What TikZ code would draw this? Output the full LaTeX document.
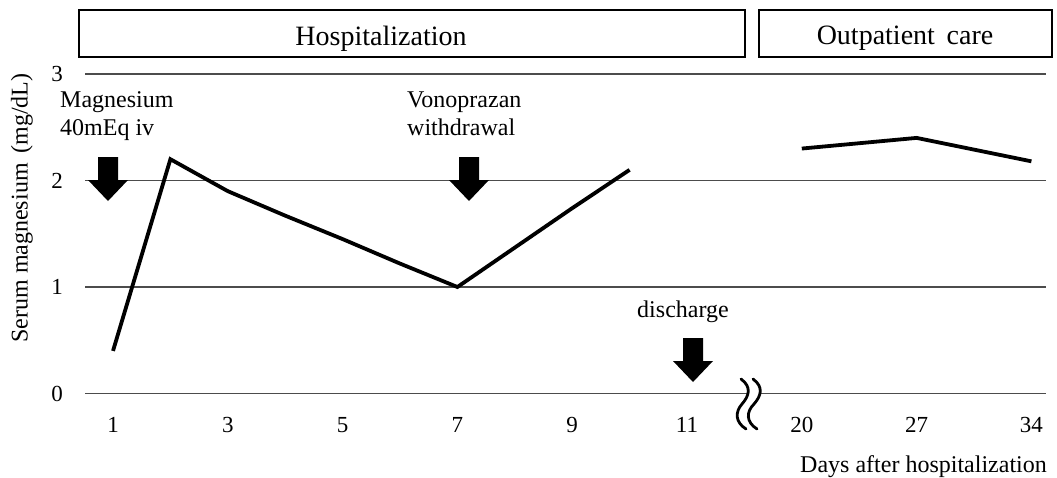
\documentclass[tikz,border=0pt]{standalone}
\usepackage{fontspec}
\setmainfont{Liberation Serif}
\begin{document}
\begin{tikzpicture}[x=1pt,y=-1pt,
  lbl/.style={font=\fontsize{24}{28}\selectfont, inner sep=0pt, anchor=base west},
  ctr/.style={font=\fontsize{24}{28}\selectfont, inner sep=0pt, anchor=base},
  tick/.style={font=\fontsize{23}{27}\selectfont, inner sep=0pt, anchor=base},
  head/.style={font=\fontsize{28}{33}\selectfont, inner sep=0pt, anchor=base},
  gridline/.style={line width=1.3pt, black!70},
  periodbox/.style={draw=black, line width=1.4pt},
  dataline/.style={line width=3.8pt, line join=miter},
  blockarrow/.style={fill=black},
  breakcurve/.style={line width=2.8pt, line cap=round}]
\useasboundingbox (0,0) rectangle (1057,477);

% header boxes
\draw[periodbox] (79,10) rectangle (745,57);
\node[head] (hosp) at (381,45) {Hospitalization};
\draw[periodbox] (759,10) rectangle (1052,57);
\node[head] (outp) at (905,44) {Outpatient\ \,care};

% gridlines
\foreach \v/\py in {3/74,2/180.5,1/287,0/393.5}{
  \draw[gridline] (85,\py) -- (1046,\py);
  \node[tick] (y\v) at (57,\py+7.5) {\v};
}

% break symbol on axis
\fill[white] (741,379) .. controls (752,387) and (749,396) .. (742,404)
   .. controls (735,412) and (735,422) .. (746,429)
   -- (757,429) .. controls (746,422) and (746,412) .. (754,404)
   .. controls (761,396) and (764,387) .. (753,379) -- cycle;
\draw[breakcurve] (741,379) .. controls (752,387) and (749,396) .. (742,404)
   .. controls (735,412) and (735,422) .. (746,429);
\draw[breakcurve] (753,379) .. controls (764,387) and (761,396) .. (754,404)
   .. controls (746,412) and (746,422) .. (757,429);

% x tick labels
\foreach \d/\i in {1/0,3/2,5/4,7/6,9/8,11/10,20/12,27/14,34/16}{
  \node[tick] (x\d) at ({113+57.4*\i},432) {\d};
}

% data points
\foreach \n/\i/\v in {a/0/0.4,b/1/2.2,c/2/1.9,d/3/1.67,e/4/1.45,f/5/1.22,g/6/1.0,h/7/1.37,k/8/1.74,m/9/2.1,p/12/2.3,q/14/2.4,r/16/2.18}{
  \coordinate (\n) at ({113+57.4*\i},{393.5-106.5*\v});
}
\draw[dataline] (a) -- (b) -- (c) -- (d) -- (e) -- (f) -- (g) -- (h) -- (k) -- (m);
\draw[dataline] (p) -- (q) -- (r);

% block arrows
\foreach \ax/\ay in {108/157,469/157,693/338}{
  \fill[blockarrow,shift={(\ax,\ay)}] (-10,0) -- (10,0) -- (10,23) -- (20,23)
     -- (0,44) -- (-20,23) -- (-10,23) -- cycle;
}

% annotations
\node[lbl] (mg1) at (60,107) {Magnesium};
\node[lbl] (mg2) at (60,135) {40mEq iv};
\node[lbl] (vo1) at (407,107) {Vonoprazan};
\node[lbl] (vo2) at (407,135) {withdrawal};
\node[ctr] (dis) at (683,317) {discharge};

% axis titles
\node[font=\fontsize{24}{28}\selectfont, inner sep=0pt, rotate=90] (ytitle) at (22,208) {Serum magnesium\ \,(mg/dL)};
\node[font=\fontsize{24}{28}\selectfont, inner sep=0pt, anchor=base east] (xtitle) at (1047,472) {Days after hospitalization};
\end{tikzpicture}
\end{document}
